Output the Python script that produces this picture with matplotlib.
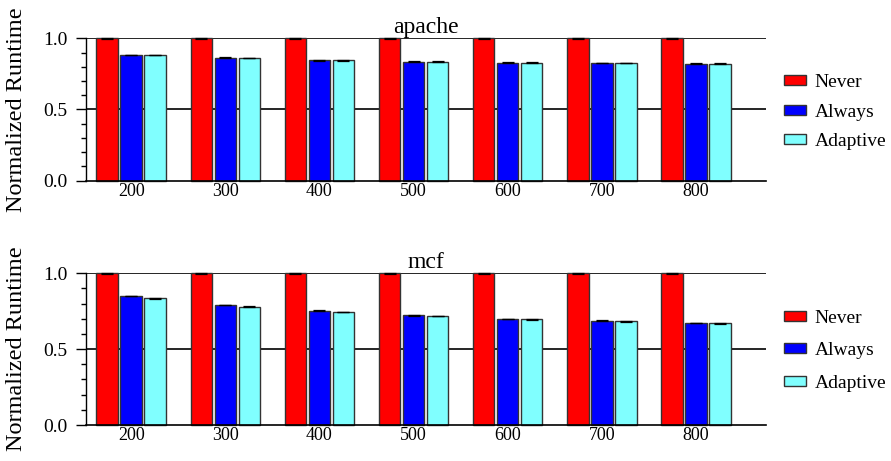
import numpy as np
import matplotlib
matplotlib.use("Agg")
import matplotlib.pyplot as plt
from matplotlib.ticker import MultipleLocator

plt.rcParams['font.family'] = ['Liberation Serif', 'DejaVu Serif']

# Data
sizes = ["200", "300", "400", "500", "600", "700", "800"]
series = ["Never", "Always", "Adaptive"]

apache_never = [1.0, 1.0, 1.0, 1.0, 1.0, 1.0, 1.0]
apache_always = [0.883, 0.864, 0.846, 0.837, 0.830, 0.827, 0.823]
apache_adaptive = [0.882, 0.863, 0.846, 0.837, 0.830, 0.827, 0.823]

mcf_never = [1.0, 1.0, 1.0, 1.0, 1.0, 1.0, 1.0]
mcf_always = [0.850, 0.790, 0.753, 0.723, 0.700, 0.688, 0.672]
mcf_adaptive = [0.835, 0.780, 0.745, 0.718, 0.697, 0.684, 0.670]

colors = ["#ff0000", "#0000ff", "#80ffff"]

fig = plt.figure(figsize=(8.91, 4.61), dpi=100)
ax_top = fig.add_axes([86 / 891, 1 - 180.7 / 461, 680 / 891, 142.4 / 461])
ax_bot = fig.add_axes([86 / 891, 1 - 425 / 461, 680 / 891, 151.7 / 461])

panels = [
    (ax_top, "apache", [apache_never, apache_always, apache_adaptive], 0.64, 0.48),
    (ax_bot, "mcf", [mcf_never, mcf_always, mcf_adaptive], 0.80, 0.49),
]

x = np.arange(len(sizes))
step = 0.255
width = 0.23

for ax, title, vals, lspace, ly in panels:
    for yv in (0.5, 1.0):
        ax.axhline(yv, color="black", lw=1.2, zorder=1)
    handles = []
    for k, (v, c) in enumerate(zip(vals, colors)):
        pos = x + (k - 1) * step
        b = ax.bar(pos, v, width=width, color=c, edgecolor="#333333",
                   linewidth=1.0, zorder=2, label=series[k], clip_on=False)
        ax.errorbar(pos, v, yerr=0.002, fmt="none", ecolor="black",
                    elinewidth=0.8, capsize=4.0, capthick=0.9, zorder=3,
                    clip_on=False)
        handles.append(b)
    ax.set_xlim(-0.481, 6.746)
    ax.set_ylim(0, 1.0)
    ax.set_xticks(x)
    ax.set_xticklabels(sizes, fontsize=13)
    ax.tick_params(axis="x", length=0, pad=1.5)
    ax.set_yticks([0.0, 0.5, 1.0])
    ax.set_yticklabels(["0.0", "0.5", "1.0"], fontsize=14)
    ax.yaxis.set_minor_locator(MultipleLocator(0.1))
    ax.tick_params(axis="y", which="major", direction="out", length=7,
                   width=1.0, pad=6.5)
    ax.tick_params(axis="y", which="minor", direction="out", length=3.6,
                   width=1.0)
    for s in ("top", "right"):
        ax.spines[s].set_visible(False)
    ax.spines["left"].set_linewidth(1.0)
    ax.spines["bottom"].set_linewidth(1.2)
    ax.set_title(title, fontsize=17, pad=-1)
    ax.set_ylabel("Normalized Runtime", fontsize=17.5)
    ax.yaxis.set_label_coords(-0.087, 0.5)
    ax.legend(handles=handles, loc="center left",
              bbox_to_anchor=(1.026, ly), frameon=False, fontsize=14,
              borderpad=0, borderaxespad=0, handlelength=1.13,
              handleheight=0.41, handletextpad=0.46, labelspacing=lspace)

fig.savefig("out.png", dpi=100)
